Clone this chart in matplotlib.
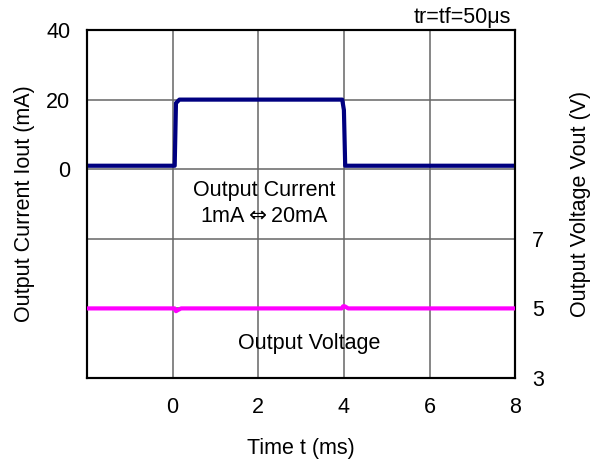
import matplotlib
matplotlib.use('Agg')
from matplotlib import pyplot as plt
import numpy as np

plt.rcParams['font.family'] = ['Liberation Sans', 'DejaVu Sans']
plt.rcParams['font.size'] = 15.5

# output current waveform (ms, mA)
t_cur = [-2, 0.05, 0.08, 0.16, 3.96, 4.0, 4.03, 8]
i_cur = [1, 1, 19, 20, 20, 17, 1, 1]

# output voltage waveform (ms, V)
t_volt = [-2, 0.05, 0.08, 0.12, 0.2, 3.95, 3.98, 4.02, 4.1, 8]
v_volt = [5, 5, 4.92, 4.95, 5, 5, 5.06, 5.06, 5, 5]

x_ticks = [-2, 0, 2, 4, 6, 8]
x_labels = ['', '0', '2', '4', '6', '8']
cur_ticks = [-60, -40, -20, 0, 20, 40]
cur_labels = ['', '', '', '0', '20', '40']
volt_ticks = [3, 5, 7]

fig = plt.figure(figsize=(5.95, 4.69), dpi=100)
ax = fig.add_axes([0.146, 0.194, 0.72, 0.742])
ax2 = ax.twinx()

ax.plot(t_cur, i_cur, color='#000080', lw=3, zorder=3)
ax2.plot(t_volt, v_volt, color='#ff00ff', lw=3, zorder=3)

ax.set_xlim(-2, 8)
ax.set_ylim(-60, 40)
ax2.set_ylim(3, 13)
ax.set_xticks(x_ticks)
ax.set_xticklabels(x_labels)
ax.set_yticks(cur_ticks)
ax.set_yticklabels(cur_labels)
ax2.set_yticks(volt_ticks)
ax.grid(True, color='#666666', lw=1.1)
ax.tick_params(axis='y', length=0, pad=12)
ax.tick_params(axis='x', length=0, pad=14)
ax2.tick_params(length=0, pad=12)
for a in (ax, ax2):
    for s in a.spines.values():
        s.set_color('black')
        s.set_linewidth(1.5)

ax.set_xlabel('Time t (ms)', labelpad=14)
ax.set_ylabel('Output Current Iout (mA)', labelpad=8)
ax2.set_ylabel('Output Voltage Vout (V)', labelpad=19)

ax.text(2.15, -6, 'Output Current', ha='center', va='center')
ax.text(2.15, -13.5, '1mA$\\Leftrightarrow$20mA', ha='center', va='center')
ax.text(3.2, -50, 'Output Voltage', ha='center', va='center')
ax.text(7.9, 43.5, 'tr=tf=50\u03bcs', ha='right', va='center')

fig.savefig('out.png', dpi=100)
